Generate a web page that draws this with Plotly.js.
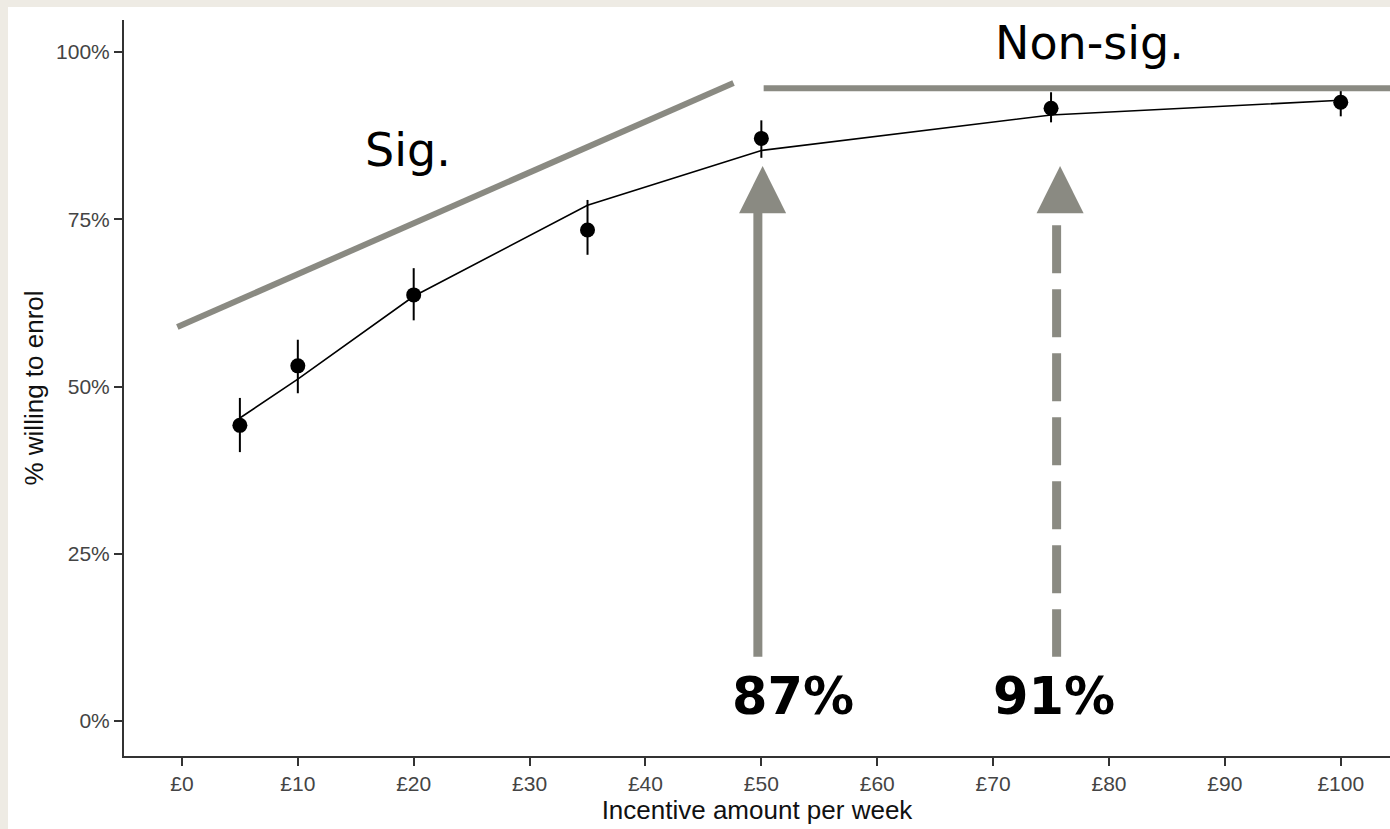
<!DOCTYPE html>
<html>
<head>
<meta charset="utf-8">
<script src="https://cdn.plot.ly/plotly-3.0.1.min.js"></script>
<style>
  html, body { margin: 0; padding: 0; background: #eeebe4; width: 1390px; height: 829px; overflow: hidden; }
  #chart { position: absolute; left: 8px; top: 7px; width: 1382px; height: 822px; background: #ffffff; }
</style>
</head>
<body>
<div id="chart"></div>
<script>
// ---- data ----
const incentive   = [5, 10, 20, 35, 50, 75, 100];
const pctWilling  = [44.2, 53.1, 63.7, 73.4, 87.1, 91.6, 92.5];
const ciUpper     = [48.3, 57.0, 67.7, 77.9, 89.8, 94.0, 94.2];
const ciLower     = [40.2, 49.0, 59.9, 69.7, 84.2, 89.5, 90.4];
const fittedPct   = [45.3, 51.1, 63.5, 77.1, 85.3, 90.6, 92.8];

const xTickVals = [0, 10, 20, 30, 40, 50, 60, 70, 80, 90, 100];
const xTickText = ['£0', '£10', '£20', '£30', '£40', '£50', '£60', '£70', '£80', '£90', '£100'];
const yTickVals = [0, 25, 50, 75, 100];
const yTickText = ['0%', '25%', '50%', '75%', '100%'];

const labelSig = 'Sig.';
const labelNonSig = 'Non-sig.';
const label50 = '87%';
const label75 = '91%';

// ---- traces ----
const errPlus  = ciUpper.map((u, i) => u - pctWilling[i]);
const errMinus = pctWilling.map((v, i) => v - ciLower[i]);

const fitTrace = {
  x: incentive, y: fittedPct, type: 'scatter', mode: 'lines',
  line: { color: '#000000', width: 1.6 }, hoverinfo: 'skip', showlegend: false
};
const pointTrace = {
  x: incentive, y: pctWilling, type: 'scatter', mode: 'markers',
  marker: { color: '#000000', size: 15 },
  error_y: { type: 'data', symmetric: false, array: errPlus, arrayminus: errMinus,
             color: '#000000', thickness: 2, width: 0 },
  showlegend: false
};

const grey = '#8a8a82';
const shapes = [
  // "Sig." trend line
  { type: 'line', xref: 'x', yref: 'y', x0: -0.4, y0: 58.9, x1: 47.6, y1: 95.4,
    line: { color: grey, width: 6 } },
  // "Non-sig." flat line
  { type: 'line', xref: 'x', yref: 'y', x0: 50.2, y0: 94.6, x1: 105, y1: 94.6,
    line: { color: grey, width: 6 } },
  // solid arrow shaft at £50
  { type: 'line', xref: 'x', yref: 'y', x0: 49.7, y0: 9.6, x1: 49.7, y1: 76.2,
    line: { color: grey, width: 9 } },
  // arrow head at £50
  { type: 'path', xref: 'x', yref: 'y',
    path: 'M 48.08,75.9 L 52.14,75.9 L 50.11,82.96 Z',
    fillcolor: grey, line: { width: 0 } },
  // dashed arrow shaft at £75
  { type: 'line', xref: 'x', yref: 'y', x0: 75.48, y0: 74.1, x1: 75.48, y1: 9.6,
    line: { color: grey, width: 9, dash: '48px,16px' } },
  // arrow head at £75
  { type: 'path', xref: 'x', yref: 'y',
    path: 'M 73.75,75.9 L 77.81,75.9 L 75.78,82.96 Z',
    fillcolor: grey, line: { width: 0 } }
];

const annFont = 'DejaVu Sans, Verdana, sans-serif';
const annotations = [
  { x: 19.48, y: 85.3, xref: 'x', yref: 'y', text: labelSig, showarrow: false,
    xanchor: 'center', yanchor: 'middle', font: { family: annFont, size: 46, color: '#000' } },
  { x: 78.28, y: 101.4, xref: 'x', yref: 'y', text: labelNonSig, showarrow: false,
    xanchor: 'center', yanchor: 'middle', font: { family: annFont, size: 46, color: '#000' } },
  { x: 52.73, y: 3.7, xref: 'x', yref: 'y', text: '<b>' + label50 + '</b>', showarrow: false,
    xanchor: 'center', yanchor: 'middle', font: { family: annFont, size: 51, color: '#000' } },
  { x: 75.22, y: 3.7, xref: 'x', yref: 'y', text: '<b>' + label75 + '</b>', showarrow: false,
    xanchor: 'center', yanchor: 'middle', font: { family: annFont, size: 51, color: '#000' } }
];

const layout = {
  width: 1382, height: 822,
  paper_bgcolor: '#ffffff', plot_bgcolor: '#ffffff',
  margin: { l: 116, r: 0, t: 13, b: 73, pad: 0 },
  font: { family: 'Liberation Sans, Arial, sans-serif' },
  showlegend: false,
  xaxis: {
    range: [-5, 104.25], tickvals: xTickVals, ticktext: xTickText,
    showline: true, linecolor: '#333333', linewidth: 2, mirror: false,
    ticks: 'outside', ticklen: 8, tickwidth: 2, tickcolor: '#333333',
    showgrid: false, zeroline: false,
    tickfont: { size: 21, color: '#444444' },
    title: { text: 'Incentive amount per week', font: { size: 26, color: '#111111' }, standoff: 4 }
  },
  yaxis: {
    range: [-5.23, 104.8], tickvals: yTickVals, ticktext: yTickText,
    showline: true, linecolor: '#333333', linewidth: 2, mirror: false,
    ticks: 'outside', ticklen: 8, tickwidth: 2, tickcolor: '#333333',
    showgrid: false, zeroline: false,
    tickfont: { size: 21, color: '#444444' },
    title: { text: '% willing to enrol', font: { size: 26, color: '#111111' }, standoff: 5 }
  },
  shapes: shapes,
  annotations: annotations
};

Plotly.newPlot('chart', [fitTrace, pointTrace], layout, { displayModeBar: false, staticPlot: true });
</script>
</body>
</html>
